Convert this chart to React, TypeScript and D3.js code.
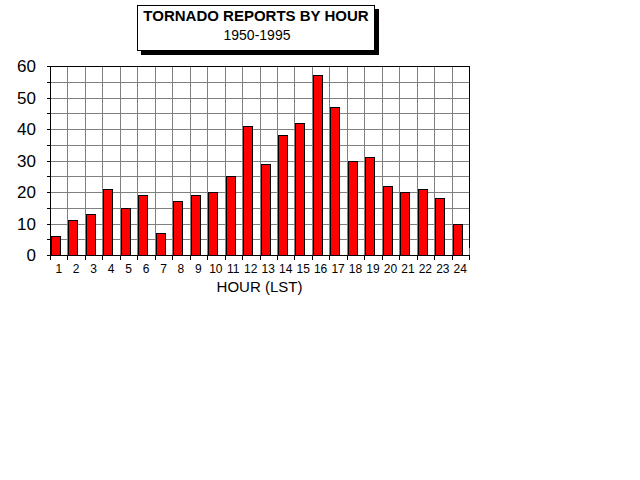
import React from "react";
import * as d3 from "d3";

const hours: string[] = [
  "1", "2", "3", "4", "5", "6", "7", "8", "9", "10", "11", "12",
  "13", "14", "15", "16", "17", "18", "19", "20", "21", "22", "23", "24",
];
const reports: number[] = [
  6, 11, 13, 21, 15, 19, 7, 17, 19, 20, 25, 41,
  29, 38, 42, 57, 47, 30, 31, 22, 20, 21, 18, 10,
];
const yLabels: number[] = [0, 10, 20, 30, 40, 50, 60];
const titleText = "TORNADO REPORTS BY HOUR";
const subtitleText = "1950-1995";
const xTitle = "HOUR (LST)";

const W = 640;
const H = 480;
const left = 50;
const right = 469;
const top = 66;
const bottom = 255;
const font = "Arial, 'Liberation Sans', sans-serif";

const App: React.FC = () => {
  const x = d3.scaleBand<string>().domain(hours).range([left, right]);
  const y = d3.scaleLinear().domain([0, 60]).range([bottom, top]);
  const gridY = d3.range(0, 61, 5);
  const bounds = hours.map((h) => x(h)!).concat([right]);
  const barW = Math.round(x.bandwidth() * 0.52);

  return (
    <svg
      width={W}
      height={H}
      style={{ position: "absolute", left: 0, top: 0, background: "#fff" }}
      shapeRendering="crispEdges"
    >
      {/* title box */}
      <rect x={141} y={9} width={238} height={46} fill="#000" />
      <rect x={137.5} y={5.5} width={237} height={45} fill="#fff" stroke="#000" />
      <text
        x={256}
        y={21}
        textAnchor="middle"
        fontFamily={font}
        fontWeight="bold"
        fontSize={15}
      >
        {titleText}
      </text>
      <text x={257} y={40} textAnchor="middle" fontFamily={font} fontSize={14}>
        {subtitleText}
      </text>

      {/* grid */}
      <g stroke="#808080" strokeWidth={1}>
        {gridY.map((v) => (
          <line
            key={"gy" + v}
            x1={left}
            x2={right}
            y1={Math.round(y(v)) + 0.5}
            y2={Math.round(y(v)) + 0.5}
          />
        ))}
        {bounds.map((b, i) => (
          <line
            key={"gx" + i}
            x1={Math.round(b) + 0.5}
            x2={Math.round(b) + 0.5}
            y1={top}
            y2={bottom}
          />
        ))}
      </g>

      {/* bars */}
      <g fill="#ff0000" stroke="#000" strokeWidth={1}>
        {hours.map((h, i) => (
          <rect
            key={h}
            x={Math.round(x(h)!) + 1.5}
            y={Math.round(y(reports[i])) + 0.5}
            width={barW}
            height={Math.round(y(0)) - Math.round(y(reports[i]))}
          />
        ))}
      </g>

      {/* frame and axes */}
      <g stroke="#000" strokeWidth={1}>
        <line x1={left} x2={right + 1} y1={top + 0.5} y2={top + 0.5} />
        <line x1={right + 0.5} x2={right + 0.5} y1={top} y2={248} />
        <line x1={left + 0.5} x2={left + 0.5} y1={top} y2={bottom + 1} />
        <line x1={left} x2={right + 1} y1={bottom + 0.5} y2={bottom + 0.5} />
        {gridY.map((v) => (
          <line
            key={"ty" + v}
            x1={left - 3}
            x2={left}
            y1={Math.round(y(v)) + 0.5}
            y2={Math.round(y(v)) + 0.5}
          />
        ))}
        {bounds.map((b, i) => (
          <line
            key={"tx" + i}
            x1={Math.round(b) + 0.5}
            x2={Math.round(b) + 0.5}
            y1={bottom}
            y2={bottom + 5}
          />
        ))}
      </g>

      {/* y labels */}
      {yLabels.map((v) => (
        <text
          key={"ly" + v}
          x={36}
          y={y(v) + 6}
          textAnchor="end"
          fontFamily={font}
          fontSize={17}
        >
          {v}
        </text>
      ))}

      {/* x labels */}
      {hours.map((h) => (
        <text
          key={"lx" + h}
          x={x(h)! + x.bandwidth() / 2}
          y={273}
          textAnchor="middle"
          fontFamily={font}
          fontSize={12}
        >
          {h}
        </text>
      ))}
      <text
        x={(left + right) / 2}
        y={292}
        textAnchor="middle"
        fontFamily={font}
        fontSize={15}
      >
        {xTitle}
      </text>
    </svg>
  );
};

export default App;
